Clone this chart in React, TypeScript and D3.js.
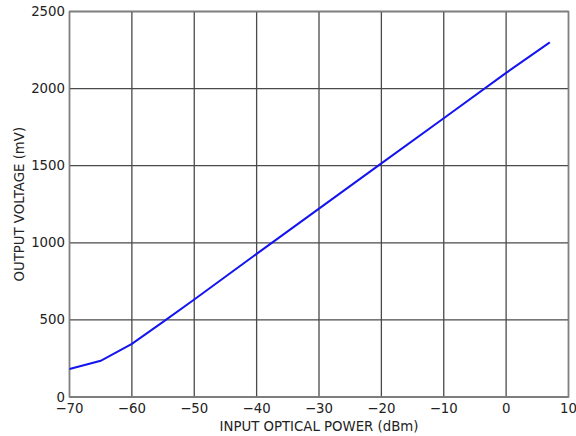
import React, { useEffect, useRef } from 'react';
import * as d3 from 'd3';

// Input optical power (dBm) vs output voltage (mV)
const powerDbm = [-70, -65, -60, -55, -50, -40, -30, -20, -10, 0, 7];
const voltageMv = [182, 235, 345, 487, 632, 928, 1222, 1515, 1808, 2102, 2300];

const xTicks = [-70, -60, -50, -40, -30, -20, -10, 0, 10];
const yTicks = [0, 500, 1000, 1500, 2000, 2500];

const App = () => {
  const svgRef = useRef<SVGSVGElement>(null);

  useEffect(() => {
    const width = 576;
    const height = 436;
    const margin = { top: 11.5, right: 7.5, bottom: 39, left: 69.5 };

    const svg = d3.select(svgRef.current).attr('width', width).attr('height', height);
    svg.selectAll('*').remove();

    const x = d3.scaleLinear().domain([-70, 10]).range([margin.left, width - margin.right]);
    const y = d3.scaleLinear().domain([0, 2500]).range([height - margin.bottom, margin.top]);

    const font = 'DejaVu Sans, sans-serif';
    const fs = 13.3;

    // grid lines
    const grid = svg.append('g').attr('stroke', '#4a4a4a').attr('stroke-width', 1.3);
    grid.selectAll('line.v')
      .data(xTicks)
      .enter()
      .append('line')
      .attr('x1', d => x(d)).attr('x2', d => x(d))
      .attr('y1', y(0)).attr('y2', y(2500));
    grid.selectAll('line.h')
      .data(yTicks)
      .enter()
      .append('line')
      .attr('x1', x(-70)).attr('x2', x(10))
      .attr('y1', d => y(d)).attr('y2', d => y(d));

    // frame
    svg.append('rect')
      .attr('x', x(-70)).attr('y', y(2500))
      .attr('width', x(10) - x(-70)).attr('height', y(0) - y(2500))
      .attr('fill', 'none')
      .attr('stroke', '#808080')
      .attr('stroke-width', 1.5);

    // data line
    const line = d3.line<number>()
      .x((d, i) => x(powerDbm[i]))
      .y(d => y(d));
    svg.append('path')
      .attr('d', line(voltageMv))
      .attr('fill', 'none')
      .attr('stroke', '#1414f0')
      .attr('stroke-width', 2);

    // tick labels
    svg.selectAll('text.xt')
      .data(xTicks)
      .enter()
      .append('text')
      .attr('x', d => x(d))
      .attr('y', y(0) + 16)
      .attr('text-anchor', 'middle')
      .attr('font-family', font)
      .attr('font-size', fs)
      .attr('fill', '#222')
      .text(d => (d < 0 ? '\u2212' + Math.abs(d) : String(d)));

    svg.selectAll('text.yt')
      .data(yTicks)
      .enter()
      .append('text')
      .attr('x', x(-70) - 4.5)
      .attr('y', d => y(d) + 4.5)
      .attr('text-anchor', 'end')
      .attr('font-family', font)
      .attr('font-size', fs)
      .attr('fill', '#222')
      .text(d => String(d));

    // axis titles
    svg.append('text')
      .attr('x', (x(-70) + x(10)) / 2)
      .attr('y', y(0) + 34)
      .attr('text-anchor', 'middle')
      .attr('font-family', font)
      .attr('font-size', fs)
      .attr('fill', '#222')
      .text('INPUT OPTICAL POWER (dBm)');

    svg.append('text')
      .attr('transform', `translate(23.5,${(y(0) + y(2500)) / 2}) rotate(-90)`)
      .attr('text-anchor', 'middle')
      .attr('font-family', font)
      .attr('font-size', fs)
      .attr('fill', '#222')
      .text('OUTPUT VOLTAGE (mV)');
  }, []);

  return (
    <svg ref={svgRef} style={{ position: 'absolute', left: 0, top: 0, background: '#fff' }}></svg>
  );
};

export default App;
